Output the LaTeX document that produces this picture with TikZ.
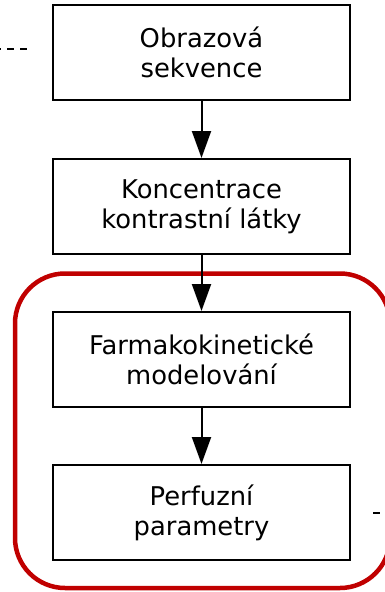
\documentclass[tikz,border=0pt]{standalone}
\usepackage{fontspec}
\setmainfont{DejaVu Sans}
\usetikzlibrary{arrows.meta}
\definecolor{groupred}{HTML}{C00000}
\tikzset{
  stepbox/.style={draw=black, line width=2pt, fill=white, minimum width=297pt,
    minimum height=95pt, inner sep=0pt, align=center,
    font=\fontsize{25.8}{30}\selectfont},
  flow/.style={line width=2pt, -{Triangle[length=27pt,width=19pt]}},
  linkdash/.style={line width=1.3pt, dash pattern=on 6.5pt off 6.5pt},
}
\begin{document}
\begin{tikzpicture}[x=1pt, y=-1pt]
  \useasboundingbox (0,0) rectangle (384,592);
  % group frame around the modelling steps
  \draw[groupred, line width=4.5pt, rounded corners=50pt] (15,273.5) rectangle (390,588);
  % processing steps
  \node[stepbox] (b1) at (201.5,52.5) {Obrazová\\sekvence};
  \node[stepbox] (b2) at (201.5,206.5) {Koncentrace\\kontrastní látky};
  \node[stepbox] (b3) at (201.5,359.5) {Farmakokinetické\\modelování};
  \node[stepbox] (b4) at (201.5,512.5) {Perfuzní\\parametry};
  % flow between steps
  \draw[flow] (b1.south) -- (b2.north);
  \draw[flow] (b2.south) -- (b3.north);
  \draw[flow] (b3.south) -- (b4.north);
  % dashed links leaving the picture
  \coordinate (inL) at (-6,49);
  \coordinate (inR) at (33,49);
  \draw[linkdash] (inL) -- (inR);
  \coordinate (outL) at (373,513);
  \coordinate (outR) at (400,513);
  \draw[linkdash] (outL) -- (outR);
\end{tikzpicture}
\end{document}
